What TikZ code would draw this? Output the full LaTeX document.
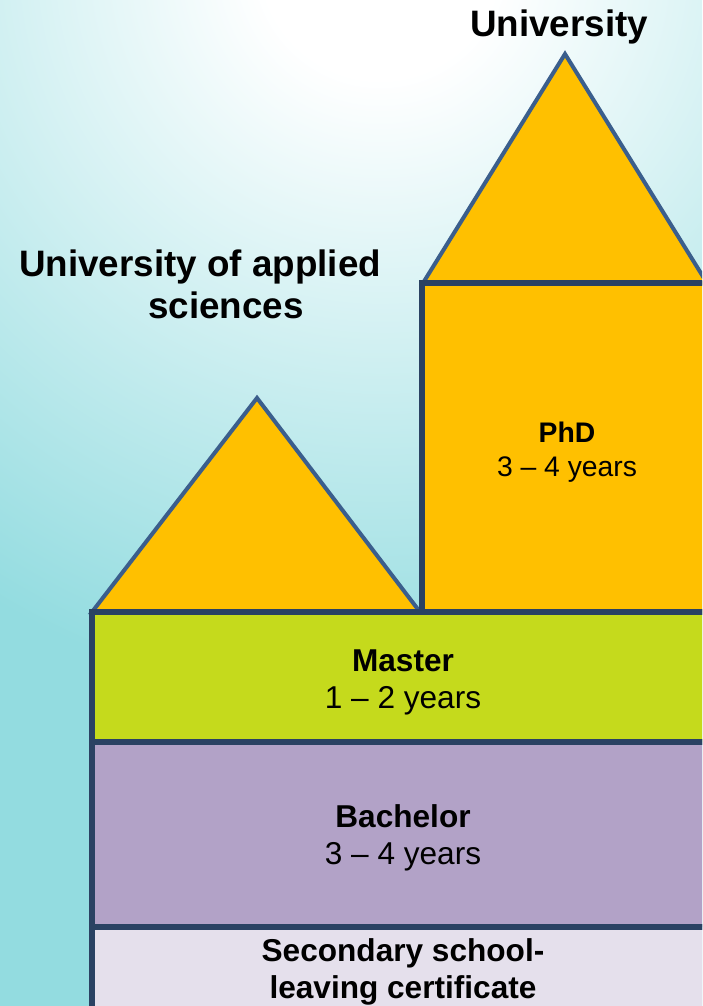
\documentclass[tikz,border=0pt]{standalone}
\usepackage{fontspec}
\setmainfont{Liberation Sans}
\definecolor{bgcyan}{HTML}{93DCE0}
\definecolor{gold}{HTML}{FFC000}
\definecolor{lime}{HTML}{C5DA1C}
\definecolor{lilac}{HTML}{B2A2C7}
\definecolor{pale}{HTML}{E5E0EC}
\definecolor{triline}{HTML}{3B5E8C}
\definecolor{boxline}{HTML}{2A4263}
\pgfdeclareradialshading{bgshade}{\pgfpoint{0bp}{0bp}}{color(0bp)=(white); color(2.7bp)=(white); color(17bp)=(bgcyan); color(50bp)=(bgcyan)}
\begin{document}
\begin{tikzpicture}[x=1pt,y=-1pt,
  tri/.style={draw=triline, fill=gold, line width=4pt, line join=miter},
  box/.style={draw=boxline, line width=5.5pt},
  lbl/.style={anchor=base, inner sep=0pt, text=black},
  bigtitle/.style={lbl, font=\fontsize{36.8}{43}\selectfont\bfseries},
  mtitle/.style={lbl, font=\fontsize{31.6}{37}\selectfont\bfseries},
  myears/.style={lbl, font=\fontsize{31.6}{37}\selectfont},
  ptitle/.style={lbl, font=\fontsize{28.3}{33}\selectfont\bfseries},
  pyears/.style={lbl, font=\fontsize{28.3}{33}\selectfont}]
\useasboundingbox (0,0) rectangle (702,1006);
\clip (0,0) rectangle (702,1006);
\fill[bgcyan] (0,0) rectangle (702,1006);
\shade[shading=bgshade] (-720,-1140) rectangle (1480,1060);
% roofs
\filldraw[tri] (92,612) -- (257,398) -- (420,612) -- cycle;
\filldraw[tri] (423,283) -- (565,54) -- (707,283) -- cycle;
% blocks
\filldraw[box, fill=gold] (422,283) rectangle (713,612);
\filldraw[box, fill=lime] (92,612) rectangle (713,742);
\filldraw[box, fill=lilac] (92,742) rectangle (713,927);
\filldraw[box, fill=pale] (92,927) rectangle (713,1030);
% labels
\node[bigtitle] (uni) at (559,37) {University};
\node[bigtitle] (uas1) at (200,276) {University of applied};
\node[bigtitle] (uas2) at (226,318) {sciences};
\node[ptitle] (phd) at (567,442) {PhD};
\node[pyears] (phdy) at (567,476) {3 – 4 years};
\node[mtitle] (mas) at (403,671) {Master};
\node[myears] (masy) at (403,708) {1 – 2 years};
\node[mtitle] (bac) at (403,827) {Bachelor};
\node[myears] (bacy) at (403,864) {3 – 4 years};
\node[mtitle] (sec1) at (403,961) {Secondary school-};
\node[mtitle] (sec2) at (403,998) {leaving certificate};
\end{tikzpicture}
\end{document}
